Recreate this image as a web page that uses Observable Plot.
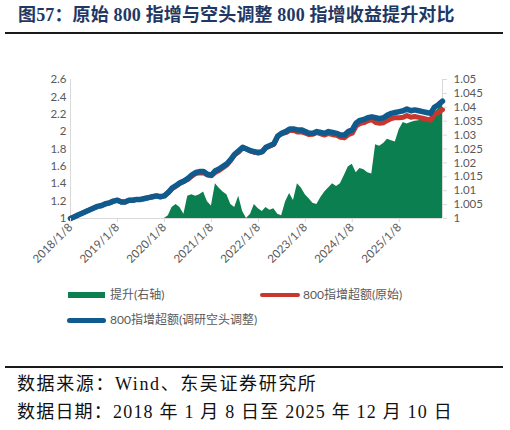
<!DOCTYPE html>
<html>
<head>
<meta charset="utf-8">
<script src="https://cdn.jsdelivr.net/npm/d3@7"></script>
<script src="https://cdn.jsdelivr.net/npm/@observablehq/plot@0.6"></script>
<style>
  html, body { margin: 0; padding: 0; background: #fff; }
  body { width: 510px; height: 430px; position: relative; overflow: hidden; }
  .abs { position: absolute; }
  #title { left: 18px; top: 2px; font-family: "Liberation Serif", "Noto Sans CJK SC", serif; font-weight: bold; font-size: 18px; color: #1f3864; white-space: nowrap; line-height: 26px; letter-spacing: 0.15px; }
  .rule { left: 5px; width: 498px; height: 2px; background: #1a1a1a; }
  #chart { left: 0; top: 40px; }
  .leg { font-family: "Lato", "Noto Sans CJK SC", sans-serif; font-size: 12px; color: #595959; white-space: nowrap; line-height: 16px; }
  .foot { left: 17px; font-family: "Liberation Serif", "Noto Sans CJK SC", serif; font-size: 18px; color: #111; white-space: nowrap; letter-spacing: 1.2px; line-height: 22px; }
</style>
</head>
<body>
<div id="title" class="abs">图57：原始 800 指增与空头调整 800 指增收益提升对比</div>
<div class="abs rule" style="top:32px"></div>
<div id="chart" class="abs"></div>

<div class="abs" style="left:68px;top:292px;width:37px;height:6px;background:#0b7f4f"></div>
<div class="abs leg" style="left:110px;top:287px">提升(右轴)</div>
<div class="abs" style="left:260px;top:293px;width:40px;height:4px;border-radius:2px;background:#c8372d"></div>
<div class="abs leg" style="left:303px;top:287px">800指增超额(原始)</div>
<div class="abs" style="left:67px;top:318px;width:39px;height:5px;border-radius:2.5px;background:#0f5b8e"></div>
<div class="abs leg" style="left:110px;top:312px">800指增超额(调研空头调整)</div>

<div class="abs rule" style="top:366px"></div>
<div class="abs foot" style="top:373px;letter-spacing:1.6px">数据来源：Wind、东吴证券研究所</div>
<div class="abs foot" style="top:401px">数据日期：2018 年 1 月 8 日至 2025 年 12 月 10 日</div>

<script>
// ---- data (monthly readings from the reference) ----
const startDate = "2018-01-08";
const endDate = "2025-12-10";

const adjusted = [ // 800指增超额(调研空头调整), left axis
  1.00,1.02,1.04,1.06,1.08,1.10,1.12,1.14,1.15,1.17,1.18,1.20,
  1.21,1.19,1.19,1.21,1.21,1.22,1.22,1.23,1.24,1.25,1.26,1.25,
  1.26,1.30,1.35,1.38,1.41,1.43,1.46,1.50,1.53,1.54,1.54,1.51,
  1.50,1.55,1.57,1.60,1.63,1.68,1.74,1.78,1.82,1.80,1.78,1.77,
  1.76,1.77,1.82,1.84,1.86,1.95,1.98,2.00,2.03,2.03,2.02,2.02,
  2.00,1.98,1.98,2.00,1.99,1.98,2.00,1.99,1.98,1.96,1.96,2.00,
  2.02,2.10,2.13,2.14,2.16,2.17,2.16,2.15,2.16,2.19,2.21,2.22,
  2.23,2.24,2.26,2.24,2.25,2.24,2.23,2.22,2.21,2.28,2.31,2.35
];
const original = [ // 800指增超额(原始), left axis
  1.00,1.02,1.04,1.06,1.08,1.10,1.12,1.14,1.15,1.17,1.18,1.20,
  1.21,1.19,1.19,1.21,1.21,1.22,1.22,1.23,1.24,1.25,1.26,1.25,
  1.26,1.30,1.345,1.373,1.404,1.428,1.448,1.487,1.518,1.527,1.525,1.501,
  1.493,1.531,1.553,1.585,1.616,1.672,1.733,1.766,1.815,1.80,1.777,1.761,
  1.754,1.766,1.813,1.834,1.853,1.947,1.978,1.988,2.012,2.017,1.995,1.998,
  1.983,1.966,1.969,1.990,1.975,1.961,1.978,1.965,1.957,1.936,1.930,1.964,
  1.981,2.066,2.092,2.103,2.125,2.136,2.104,2.096,2.103,2.129,2.150,2.161,
  2.161,2.165,2.186,2.165,2.174,2.164,2.154,2.143,2.132,2.197,2.222,2.253
];
const lift = [ // 提升(右轴)
  1,1,1,1,1,1,1,1,1,1,1,1,
  1,1,1,1,1,1,1,1,1,1,1,1,
  1,1.001,1.004,1.005,1.004,1.0015,1.008,1.0085,1.008,1.0085,1.0095,1.006,
  1.0045,1.0125,1.011,1.0095,1.0085,1.005,1.004,1.008,1.0025,1.000,1.0015,1.005,
  1.0035,1.0025,1.004,1.003,1.0035,1.0015,1.001,1.006,1.009,1.0065,1.0125,1.011,
  1.0085,1.007,1.0055,1.005,1.0075,1.0095,1.011,1.0125,1.0115,1.0125,1.0155,1.0185,
  1.0195,1.0165,1.018,1.0175,1.0165,1.016,1.0265,1.026,1.027,1.0285,1.028,1.0275,
  1.032,1.0345,1.034,1.0345,1.035,1.0352,1.0355,1.036,1.0365,1.038,1.0395,1.043
];
const xTicks = ["2018-01-08","2019-01-08","2020-01-08","2021-01-08","2022-01-08","2023-01-08","2024-01-08","2025-01-08"];
const leftTicks = [1, 1.2, 1.4, 1.6, 1.8, 2, 2.2, 2.4, 2.6];
const rightTicks = [1, 1.005, 1.01, 1.015, 1.02, 1.025, 1.03, 1.035, 1.04, 1.045, 1.05];

// ---- build table ----
const d0 = new Date(startDate), d1 = new Date(endDate);
const dates = d3.utcMonth.range(new Date("2018-01-01"), new Date("2025-12-01"))
  .map(d => new Date(Date.UTC(d.getUTCFullYear(), d.getUTCMonth(), 8)));
dates.push(d1);
const rows = dates.map((date, i) => ({date, adj: adjusted[i], orig: original[i], lift: lift[i]}));

// right axis [1, 1.05] shares the left axis frame [1, 2.6]
const rLo = 1, rHi = 1.05, lLo = 1, lHi = 2.6;
const toLeft = v => lLo + (v - rLo) * (lHi - lLo) / (rHi - rLo);
const fromLeft = v => rLo + (v - lLo) * (rHi - rLo) / (lHi - lLo);

const fmtDate = d => `${d.getUTCFullYear()}/${d.getUTCMonth() + 1}/${d.getUTCDate()}`;
const axisGray = "#d9d9d9", textGray = "#595959";

const chart = Plot.plot({
  width: 510,
  height: 240,
  marginTop: 39,
  marginBottom: 62,
  marginLeft: 70,
  marginRight: 68,
  x: {type: "utc", domain: [d0, d1]},
  y: {domain: [lLo, lHi]},
  style: {fontFamily: "Lato, 'Noto Sans CJK SC', sans-serif", fontSize: "11.5px", color: textGray, background: "transparent", overflow: "visible"},
  marks: [
    Plot.areaY(rows, {x: "date", y1: d => lLo, y2: d => toLeft(d.lift), fill: "#0b7f4f", curve: "linear"}),
    Plot.ruleX([d0], {y1: lLo, y2: lHi, stroke: axisGray}),
    Plot.ruleX([d1], {y1: lLo, y2: lHi, stroke: axisGray}),
    Plot.ruleY([lLo], {stroke: axisGray}),
    Plot.lineY(rows, {x: "date", y: "orig", stroke: "#c8372d", strokeWidth: 5, strokeLinejoin: "round", strokeLinecap: "round"}),
    Plot.lineY(rows, {x: "date", y: "adj", stroke: "#0f5b8e", strokeWidth: 5.5, strokeLinejoin: "round", strokeLinecap: "round"}),
    Plot.axisY(leftTicks, {anchor: "left", tickSize: 0, tickPadding: 4, tickFormat: d => String(d), fill: textGray}),
    Plot.axisY(rightTicks.map(toLeft), {anchor: "right", tickSize: 4, tickPadding: 7, stroke: axisGray, fill: textGray,
      tickFormat: d => String(+fromLeft(d).toFixed(3))}),
    Plot.axisX(xTicks.map(s => new Date(s)), {anchor: "bottom", tickSize: 4, tickPadding: 3, tickRotate: -45, stroke: axisGray, fill: textGray, tickFormat: fmtDate})
  ]
});
document.getElementById("chart").appendChild(chart);
</script>
</body>
</html>
